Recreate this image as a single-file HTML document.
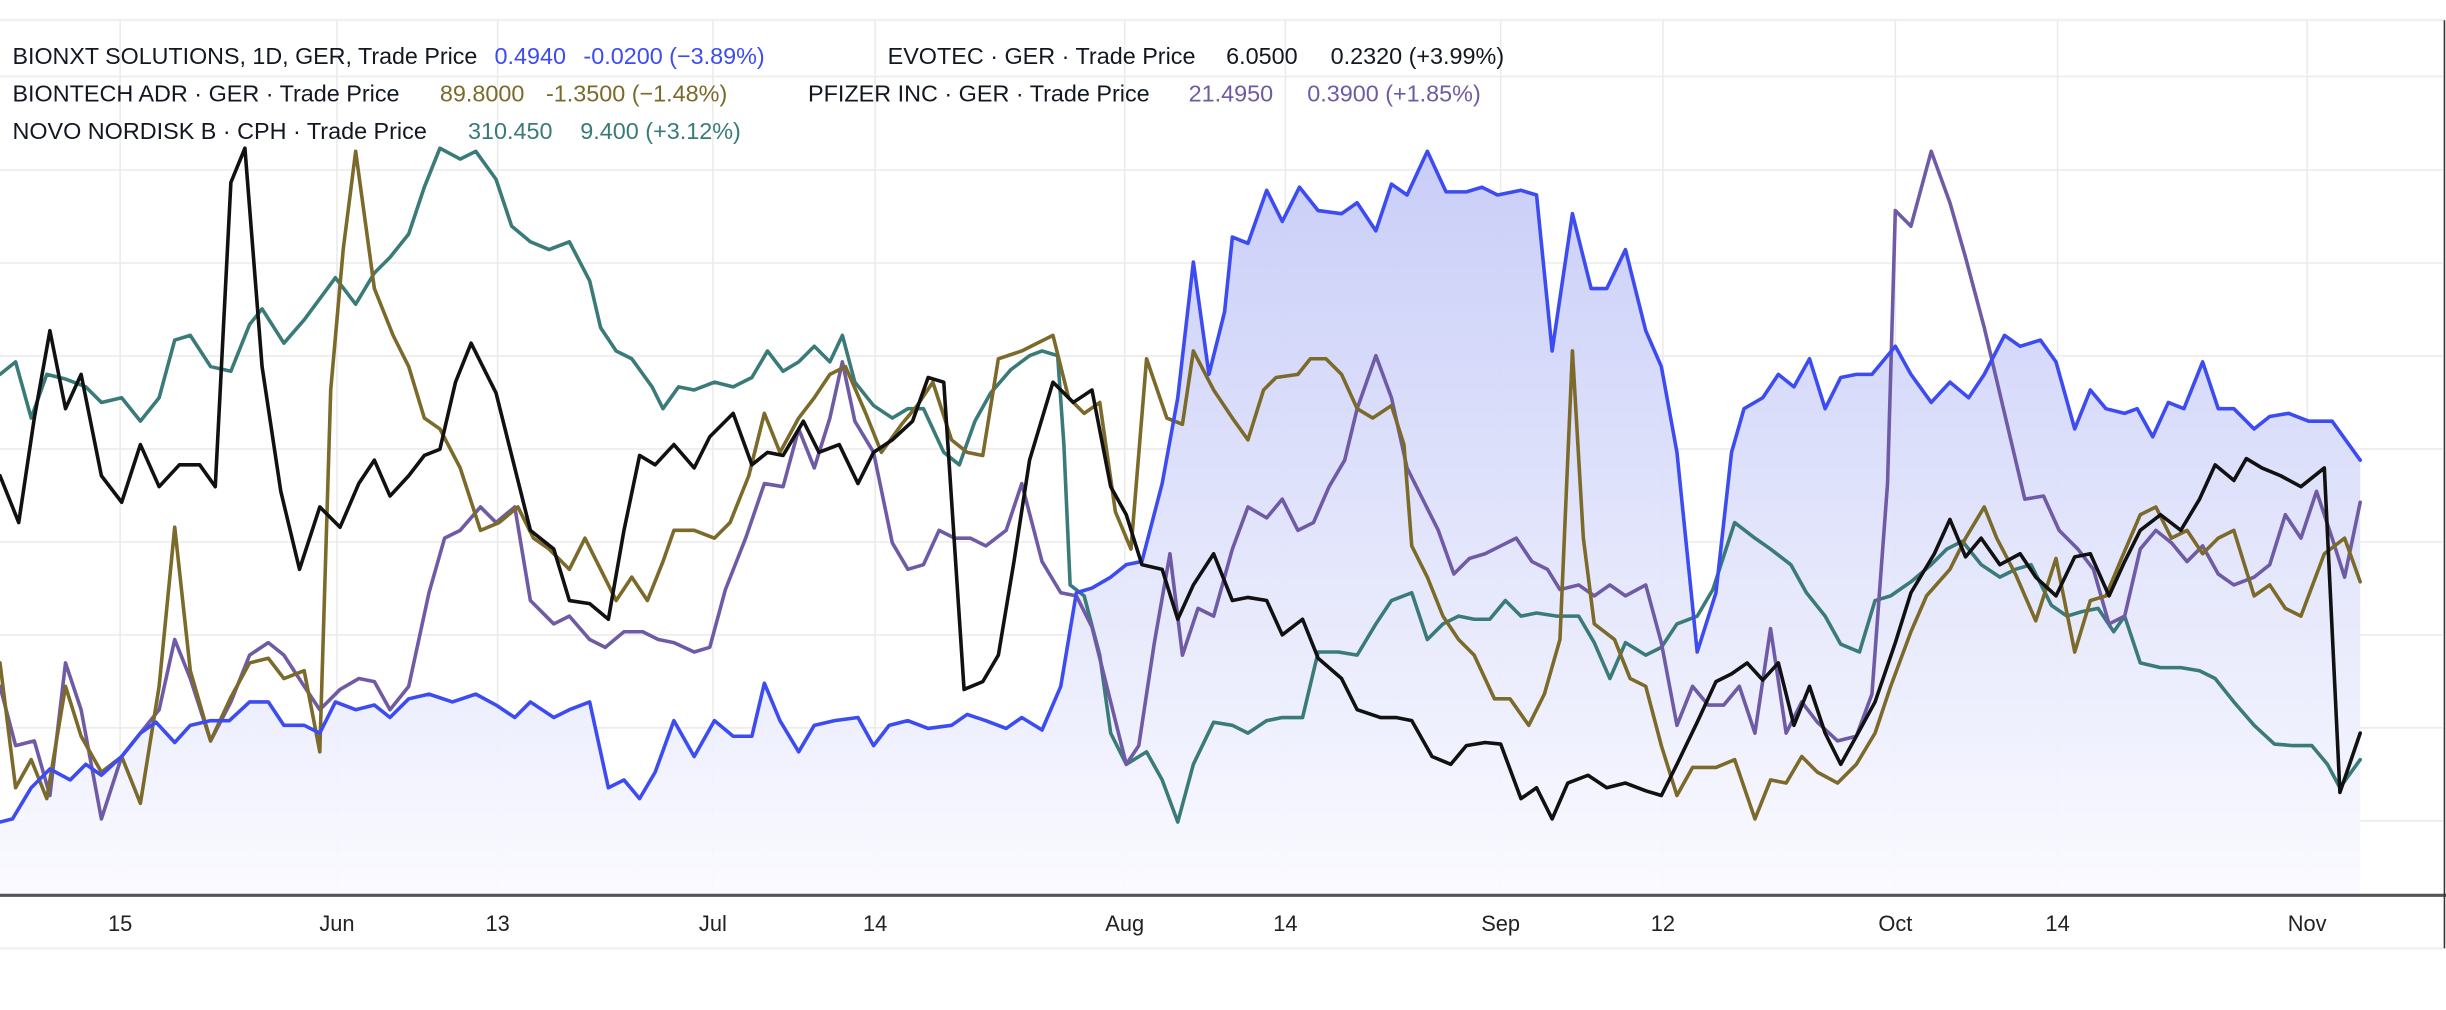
<!DOCTYPE html>
<html><head><meta charset="utf-8"><style>html,body{margin:0;padding:0;background:#fff;}svg{display:block}</style></head>
<body>
<svg width="2446" height="1010" viewBox="0 0 1568 647.5" preserveAspectRatio="none" xmlns="http://www.w3.org/2000/svg" font-family="Liberation Sans, sans-serif">
<defs>
<linearGradient id="g" x1="0" y1="0" x2="0" y2="1">
<stop offset="0" stop-color="#c6cbf7"/>
<stop offset="1" stop-color="#fafaff"/>
</linearGradient>
</defs>
<rect x="0" y="0" width="1568" height="647.5" fill="#fff"/>
<line x1="0" y1="12.8" x2="1568" y2="12.8" stroke="#f0f0f0" stroke-width="1.5"/>
<g stroke="#ebebeb" stroke-width="1">
<line x1="0" y1="49" x2="1566" y2="49"/><line x1="0" y1="109" x2="1566" y2="109"/><line x1="0" y1="168.6" x2="1566" y2="168.6"/><line x1="0" y1="228.2" x2="1566" y2="228.2"/><line x1="0" y1="287.8" x2="1566" y2="287.8"/><line x1="0" y1="347.4" x2="1566" y2="347.4"/><line x1="0" y1="407" x2="1566" y2="407"/><line x1="0" y1="466.6" x2="1566" y2="466.6"/><line x1="0" y1="526.2" x2="1566" y2="526.2"/>
<line x1="77" y1="13" x2="77" y2="573"/><line x1="216" y1="13" x2="216" y2="573"/><line x1="319" y1="13" x2="319" y2="573"/><line x1="457" y1="13" x2="457" y2="573"/><line x1="561" y1="13" x2="561" y2="573"/><line x1="721" y1="13" x2="721" y2="573"/><line x1="824" y1="13" x2="824" y2="573"/><line x1="962" y1="13" x2="962" y2="573"/><line x1="1066" y1="13" x2="1066" y2="573"/><line x1="1215" y1="13" x2="1215" y2="573"/><line x1="1319" y1="13" x2="1319" y2="573"/><line x1="1479" y1="13" x2="1479" y2="573"/>
</g>
<polygon fill="url(#g)" opacity="0.95" points="0,573 0,527 8,525 20,505 32,493 45,500 55,490 65,497 78,485 90,470 100,463 112,476 122,465 135,462 147,462 160,450 172,450 182,465 195,465 205,470 215,450 228,455 240,452 250,460 262,448 275,445 290,450 305,445 318,452 330,460 340,450 355,460 365,455 378,450 390,505 400,500 410,512 420,495 432,462 445,485 458,462 470,472 482,472 490,438 500,462 512,482 522,465 535,462 550,460 560,478 570,465 582,462 595,467 610,465 620,458 632,462 645,467 655,460 668,468 680,440 690,380 700,377 712,370 722,362 732,360 745,310 755,255 765,168 775,240 785,200 790,152 800,156 812,122 822,142 833,120 845,135 860,137 870,130 882,148 892,118 902,125 915,97 927,123 940,123 950,120 960,125 975,122 985,125 995,225 1008,137 1020,185 1030,185 1042,160 1055,212 1065,235 1075,290 1088,418 1100,380 1110,290 1118,262 1130,255 1140,240 1150,248 1160,230 1170,262 1180,242 1190,240 1200,240 1215,222 1225,240 1238,258 1250,245 1262,255 1272,240 1285,215 1295,222 1308,218 1318,232 1330,275 1340,250 1350,262 1362,265 1370,262 1380,280 1390,258 1400,262 1412,232 1422,262 1432,262 1445,275 1455,267 1467,265 1480,270 1495,270 1513,295 1513,573"/>
<g fill="none" stroke-width="2.3" stroke-linejoin="round" stroke-linecap="round">
<polyline stroke="#3a7b79" points="0,240 10,232 20,268 30,240 42,243 55,248 65,258 78,255 90,270 102,255 112,218 122,215 135,235 148,238 160,208 168,198 182,220 195,205 215,178 228,195 240,175 250,165 262,150 272,120 282,95 295,102 305,97 318,115 328,145 340,155 352,160 365,155 378,180 385,210 395,225 405,230 418,248 425,262 435,248 445,250 458,245 470,248 482,242 492,225 502,238 512,232 522,222 532,232 540,215 548,245 560,260 572,268 582,262 592,262 605,290 615,298 625,270 635,252 648,237 660,228 668,225 678,228 682,285 686,375 695,382 705,420 712,470 722,490 735,482 745,500 755,527 765,490 778,463 790,465 800,470 812,462 822,460 835,460 845,418 858,418 870,420 882,400 892,385 905,380 915,410 925,400 935,395 945,397 955,397 965,385 975,395 985,393 998,395 1012,395 1022,412 1032,435 1042,412 1055,420 1065,415 1075,400 1088,395 1098,378 1112,335 1125,345 1135,352 1148,362 1158,380 1170,395 1180,413 1192,418 1202,385 1212,382 1225,373 1238,362 1248,352 1258,347 1270,362 1282,370 1292,365 1302,362 1315,388 1325,395 1335,392 1345,390 1355,405 1362,395 1372,425 1385,428 1398,428 1410,430 1420,435 1432,450 1445,465 1458,477 1470,478 1482,478 1492,490 1500,505 1513,487"/>
<polyline stroke="#6f5ba5" points="0,440 10,478 22,475 32,510 42,425 52,455 65,525 78,485 90,470 102,455 112,410 122,435 135,475 148,450 160,420 172,412 182,420 195,440 205,455 218,442 230,435 240,437 250,455 262,440 275,380 285,345 295,340 308,325 318,335 330,325 340,385 355,400 365,395 378,410 388,415 400,405 412,405 422,410 432,412 445,418 455,415 465,378 478,345 490,310 502,312 512,275 522,300 532,268 540,232 548,270 560,290 572,348 582,365 592,362 602,340 612,345 622,345 632,350 645,340 655,310 668,360 680,380 690,382 700,402 712,450 722,490 730,478 740,412 750,355 758,420 768,390 778,395 790,352 800,325 812,332 822,320 832,340 842,335 852,312 862,295 870,262 882,228 892,255 902,300 912,320 922,340 932,368 942,358 952,355 962,350 972,345 982,360 992,365 1000,378 1012,375 1022,382 1032,375 1042,382 1055,375 1065,412 1075,465 1085,440 1095,452 1105,452 1115,440 1125,470 1135,403 1145,470 1155,450 1165,463 1178,475 1190,472 1200,445 1210,310 1215,135 1225,145 1238,97 1250,130 1260,165 1272,210 1285,265 1298,320 1310,318 1320,340 1332,352 1342,365 1352,400 1362,395 1372,352 1382,340 1392,348 1402,360 1412,350 1422,368 1432,375 1445,370 1455,362 1465,330 1475,345 1485,315 1495,345 1503,370 1513,322"/>
<polyline stroke="#7b6a2a" points="0,425 10,505 20,487 30,512 42,440 52,472 65,495 78,485 90,515 102,440 112,338 122,430 135,475 148,447 160,425 172,422 182,435 195,430 205,482 212,250 220,160 228,97 240,185 252,215 262,235 272,268 282,275 295,300 308,340 320,335 332,325 342,345 352,352 365,365 375,345 385,365 395,385 405,370 415,385 425,360 432,340 445,340 458,345 468,335 480,305 490,265 500,290 512,268 522,255 532,240 542,235 555,265 565,290 578,272 588,260 598,245 610,282 620,290 630,292 640,230 655,225 665,220 675,215 685,255 695,265 705,258 715,328 725,352 735,230 748,268 758,272 765,225 778,250 790,268 800,282 810,250 818,242 832,240 840,230 850,230 860,240 870,262 880,268 892,260 900,285 905,350 915,370 925,395 935,410 945,420 958,448 968,448 980,465 990,445 1000,410 1008,225 1015,345 1022,400 1035,410 1045,435 1055,440 1065,478 1075,510 1085,492 1100,492 1112,487 1125,525 1135,500 1145,502 1155,485 1165,495 1178,502 1190,490 1202,470 1212,440 1225,405 1235,382 1250,365 1260,345 1272,325 1280,345 1292,368 1305,398 1318,358 1330,418 1340,385 1350,382 1360,358 1372,330 1382,325 1392,345 1402,340 1412,355 1422,345 1432,340 1445,382 1455,375 1465,390 1475,395 1490,355 1503,345 1513,373"/>
<polyline stroke="#3d4cf0" points="0,527 8,525 20,505 32,493 45,500 55,490 65,497 78,485 90,470 100,463 112,476 122,465 135,462 147,462 160,450 172,450 182,465 195,465 205,470 215,450 228,455 240,452 250,460 262,448 275,445 290,450 305,445 318,452 330,460 340,450 355,460 365,455 378,450 390,505 400,500 410,512 420,495 432,462 445,485 458,462 470,472 482,472 490,438 500,462 512,482 522,465 535,462 550,460 560,478 570,465 582,462 595,467 610,465 620,458 632,462 645,467 655,460 668,468 680,440 690,380 700,377 712,370 722,362 732,360 745,310 755,255 765,168 775,240 785,200 790,152 800,156 812,122 822,142 833,120 845,135 860,137 870,130 882,148 892,118 902,125 915,97 927,123 940,123 950,120 960,125 975,122 985,125 995,225 1008,137 1020,185 1030,185 1042,160 1055,212 1065,235 1075,290 1088,418 1100,380 1110,290 1118,262 1130,255 1140,240 1150,248 1160,230 1170,262 1180,242 1190,240 1200,240 1215,222 1225,240 1238,258 1250,245 1262,255 1272,240 1285,215 1295,222 1308,218 1318,232 1330,275 1340,250 1350,262 1362,265 1370,262 1380,280 1390,258 1400,262 1412,232 1422,262 1432,262 1445,275 1455,267 1467,265 1480,270 1495,270 1513,295"/>
<polyline stroke="#111" points="0,305 12,335 22,268 32,212 42,262 52,240 65,305 78,322 90,285 102,312 115,298 128,298 138,312 148,117 157,95 168,235 180,315 192,365 205,325 218,338 230,310 240,295 250,318 262,305 272,292 282,288 292,245 302,220 318,252 330,300 340,340 355,352 365,385 378,387 390,397 400,340 410,292 420,298 432,285 445,300 455,280 470,265 482,298 492,290 502,292 515,270 525,290 538,285 550,310 560,290 572,282 585,270 595,242 605,245 618,442 630,437 640,420 650,360 660,295 675,245 688,258 700,250 712,312 722,330 732,362 745,365 755,397 765,375 778,355 790,385 800,383 812,385 822,407 835,397 845,422 860,435 870,455 885,460 895,460 905,462 918,485 930,490 940,478 952,476 962,477 975,512 985,505 995,525 1005,502 1018,497 1030,505 1042,502 1055,507 1065,510 1075,490 1088,463 1100,437 1110,432 1120,425 1130,436 1140,425 1150,465 1160,440 1170,470 1180,490 1190,472 1202,450 1215,412 1225,380 1240,355 1250,333 1260,357 1270,345 1282,362 1295,355 1305,370 1318,382 1330,357 1340,355 1352,382 1362,360 1372,340 1385,330 1398,340 1410,320 1420,298 1432,308 1440,294 1450,300 1462,305 1475,312 1490,300 1500,508 1513,470"/>
</g>
<line x1="0" y1="574" x2="1568" y2="574" stroke="#555" stroke-width="2"/>
<line x1="1567" y1="13" x2="1567" y2="608" stroke="#333" stroke-width="1"/>
<line x1="0" y1="608" x2="1566" y2="608" stroke="#f0f0f0" stroke-width="1.5"/>
<g font-size="14" fill="#222" text-anchor="middle">
<text x="77" y="597">15</text><text x="216" y="597">Jun</text><text x="319" y="597">13</text><text x="457" y="597">Jul</text><text x="561" y="597">14</text><text x="721" y="597">Aug</text><text x="824" y="597">14</text><text x="962" y="597">Sep</text><text x="1066" y="597">12</text><text x="1215" y="597">Oct</text><text x="1319" y="597">14</text><text x="1479" y="597">Nov</text>
</g>
<g font-size="15" fill="#131722">
<text x="8" y="41" textLength="298" lengthAdjust="spacingAndGlyphs">BIONXT SOLUTIONS, 1D, GER, Trade Price</text>
<text x="317" y="41" fill="#3d4cf0">0.4940</text>
<text x="374" y="41" fill="#3d4cf0">-0.0200 (−3.89%)</text>
<text x="569" y="41">EVOTEC · GER · Trade Price</text>
<text x="786" y="41">6.0500</text>
<text x="853" y="41">0.2320 (+3.99%)</text>
<text x="8" y="65">BIONTECH ADR · GER · Trade Price</text>
<text x="282" y="65" fill="#7b6a2a">89.8000</text>
<text x="350" y="65" fill="#7b6a2a">-1.3500 (−1.48%)</text>
<text x="518" y="65">PFIZER INC · GER · Trade Price</text>
<text x="762" y="65" fill="#6f5ba5">21.4950</text>
<text x="838" y="65" fill="#6f5ba5">0.3900 (+1.85%)</text>
<text x="8" y="89">NOVO NORDISK B · CPH · Trade Price</text>
<text x="300" y="89" fill="#3a7b79">310.450</text>
<text x="372" y="89" fill="#3a7b79">9.400 (+3.12%)</text>
</g>
</svg>
</body></html>
